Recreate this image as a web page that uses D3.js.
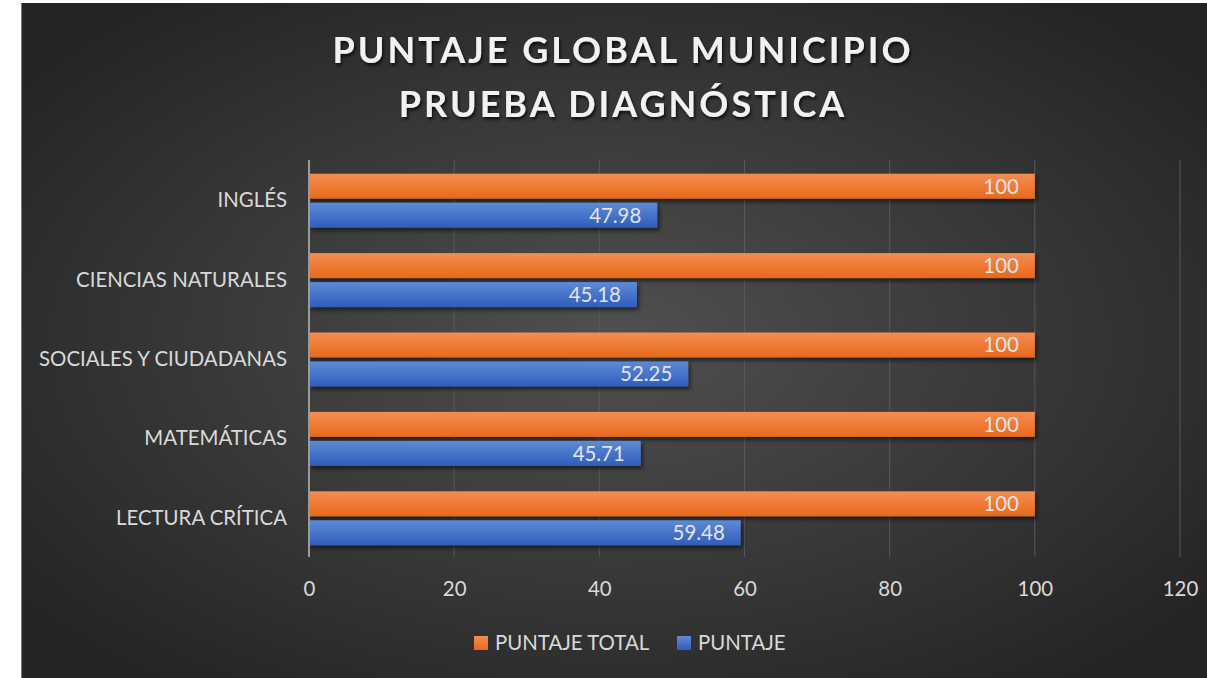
<!DOCTYPE html>
<html>
<head>
<meta charset="utf-8">
<script src="https://cdn.jsdelivr.net/npm/d3@7"></script>
<style>
  html, body { margin: 0; padding: 0; background: #ffffff; }
  svg { display: block; }
  text { font-family: Lato, "Open Sans", sans-serif; }
</style>
</head>
<body>
<svg id="chart" width="1207" height="678"></svg>
<script>
const categories = ["INGLÉS", "CIENCIAS NATURALES", "SOCIALES Y CIUDADANAS", "MATEMÁTICAS", "LECTURA CRÍTICA"];
const seriesNames = ["PUNTAJE TOTAL", "PUNTAJE"];
const puntajeTotal = [100, 100, 100, 100, 100];
const puntaje = [47.98, 45.18, 52.25, 45.71, 59.48];
const xTicks = [0, 20, 40, 60, 80, 100, 120];
const titleLines = ["PUNTAJE GLOBAL MUNICIPIO", "PRUEBA DIAGNÓSTICA"];

const seriesValues = [puntajeTotal, puntaje];
const seriesColors = [
  { top: "#f58d52", bottom: "#e8691b" },
  { top: "#5f8ad6", bottom: "#2f5dbd" }
];

const FS = 20.4;
const svg = d3.select("#chart");
const W = 1207, H = 678;
const defs = svg.append("defs");

const bg = defs.append("radialGradient").attr("id", "bgGrad")
  .attr("cx", "50%").attr("cy", "50%").attr("r", "62%");
bg.append("stop").attr("offset", "0%").attr("stop-color", "#505050");
bg.append("stop").attr("offset", "100%").attr("stop-color", "#252525");

seriesColors.forEach((c, i) => {
  const g = defs.append("linearGradient").attr("id", "barGrad" + i)
    .attr("x1", 0).attr("y1", 0).attr("x2", 0).attr("y2", 1);
  g.append("stop").attr("offset", "0%").attr("stop-color", c.top);
  g.append("stop").attr("offset", "100%").attr("stop-color", c.bottom);
});

const shadow = defs.append("filter").attr("id", "barShadow")
  .attr("x", "-5%").attr("y", "-30%").attr("width", "110%").attr("height", "170%");
shadow.append("feDropShadow").attr("dx", 2).attr("dy", 3).attr("stdDeviation", 2)
  .attr("flood-color", "#000").attr("flood-opacity", 0.55);

const tShadow = defs.append("filter").attr("id", "textShadow")
  .attr("x", "-5%").attr("y", "-20%").attr("width", "110%").attr("height", "150%");
tShadow.append("feDropShadow").attr("dx", 1.5).attr("dy", 2.5).attr("stdDeviation", 1.5)
  .attr("flood-color", "#000").attr("flood-opacity", 0.7);

svg.append("rect").attr("x", 21).attr("y", 3).attr("width", W - 21).attr("height", H - 3)
  .attr("fill", "url(#bgGrad)");
svg.append("line").attr("x1", 21.5).attr("x2", 21.5).attr("y1", 3).attr("y2", H)
  .attr("stroke", "#777").attr("stroke-width", 1);

svg.append("g").selectAll("text").data(titleLines).join("text")
  .attr("x", 623).attr("y", (d, i) => 63 + i * 54)
  .attr("text-anchor", "middle")
  .attr("font-size", 36).attr("font-weight", 700)
  .attr("letter-spacing", 3)
  .attr("fill", "#f2f2f2")
  .attr("filter", "url(#textShadow)")
  .text(d => d);

const x = d3.scaleLinear().domain([0, 120]).range([309, 1180]);
const y = d3.scaleBand().domain(categories).range([161, 558]).paddingInner(0.32).paddingOuter(0.16);
const ySub = d3.scaleBand().domain([0, 1]).range([0, y.bandwidth()]).paddingInner(0.138);

svg.append("g").selectAll("line").data(xTicks.filter(d => d !== 0)).join("line")
  .attr("x1", d => x(d)).attr("x2", d => x(d))
  .attr("y1", 160).attr("y2", 557)
  .attr("stroke", "#585858").attr("stroke-width", 1);

const xAxis = d3.axisBottom(x).tickValues(xTicks).tickSize(0).tickPadding(0).tickFormat(d3.format("d"));
const gx = svg.append("g").attr("transform", "translate(0,582)").call(xAxis);
gx.select(".domain").remove();
gx.selectAll("text").attr("font-size", FS).attr("fill", "#d9d9d9")
  .attr("font-family", "Lato, sans-serif").attr("dy", "0.71em");

const groups = svg.append("g").selectAll("g").data(categories).join("g")
  .attr("transform", d => `translate(0,${y(d)})`);

seriesValues.forEach((vals, si) => {
  groups.append("rect")
    .attr("x", x(0))
    .attr("y", ySub(si))
    .attr("width", (d, i) => x(vals[i]) - x(0))
    .attr("height", ySub.bandwidth())
    .attr("fill", `url(#barGrad${si})`)
    .attr("filter", "url(#barShadow)");
  groups.append("text")
    .attr("x", (d, i) => x(vals[i]) - 16)
    .attr("y", ySub(si) + ySub.bandwidth() / 2)
    .attr("dy", "0.36em")
    .attr("text-anchor", "end")
    .attr("font-size", FS)
    .attr("fill", "#e4e4e4")
    .text((d, i) => vals[i] === 100 ? "100" : d3.format(".2f")(vals[i]));
});

const yAxis = d3.axisLeft(y).tickSize(0).tickPadding(22);
const gy = svg.append("g").attr("transform", `translate(${x(0)},0)`).call(yAxis);
gy.select(".domain").remove();
gy.selectAll("text").attr("font-size", FS).attr("fill", "#d9d9d9")
  .attr("font-family", "Lato, sans-serif");
svg.append("line").attr("x1", x(0)).attr("x2", x(0)).attr("y1", 160).attr("y2", 557)
  .attr("stroke", "#9a9a9a").attr("stroke-width", 2);

const legendItems = [{ x: 474, tx: 495 }, { x: 677, tx: 698 }];
const lg = svg.append("g").selectAll("g").data(seriesNames).join("g");
lg.append("rect")
  .attr("x", (d, i) => legendItems[i].x).attr("y", 636)
  .attr("width", 14).attr("height", 14)
  .attr("fill", (d, i) => `url(#barGrad${i})`);
lg.append("text")
  .attr("x", (d, i) => legendItems[i].tx).attr("y", 650)
  .attr("font-size", FS).attr("fill", "#d9d9d9")
  .text(d => d);
</script>
</body>
</html>
